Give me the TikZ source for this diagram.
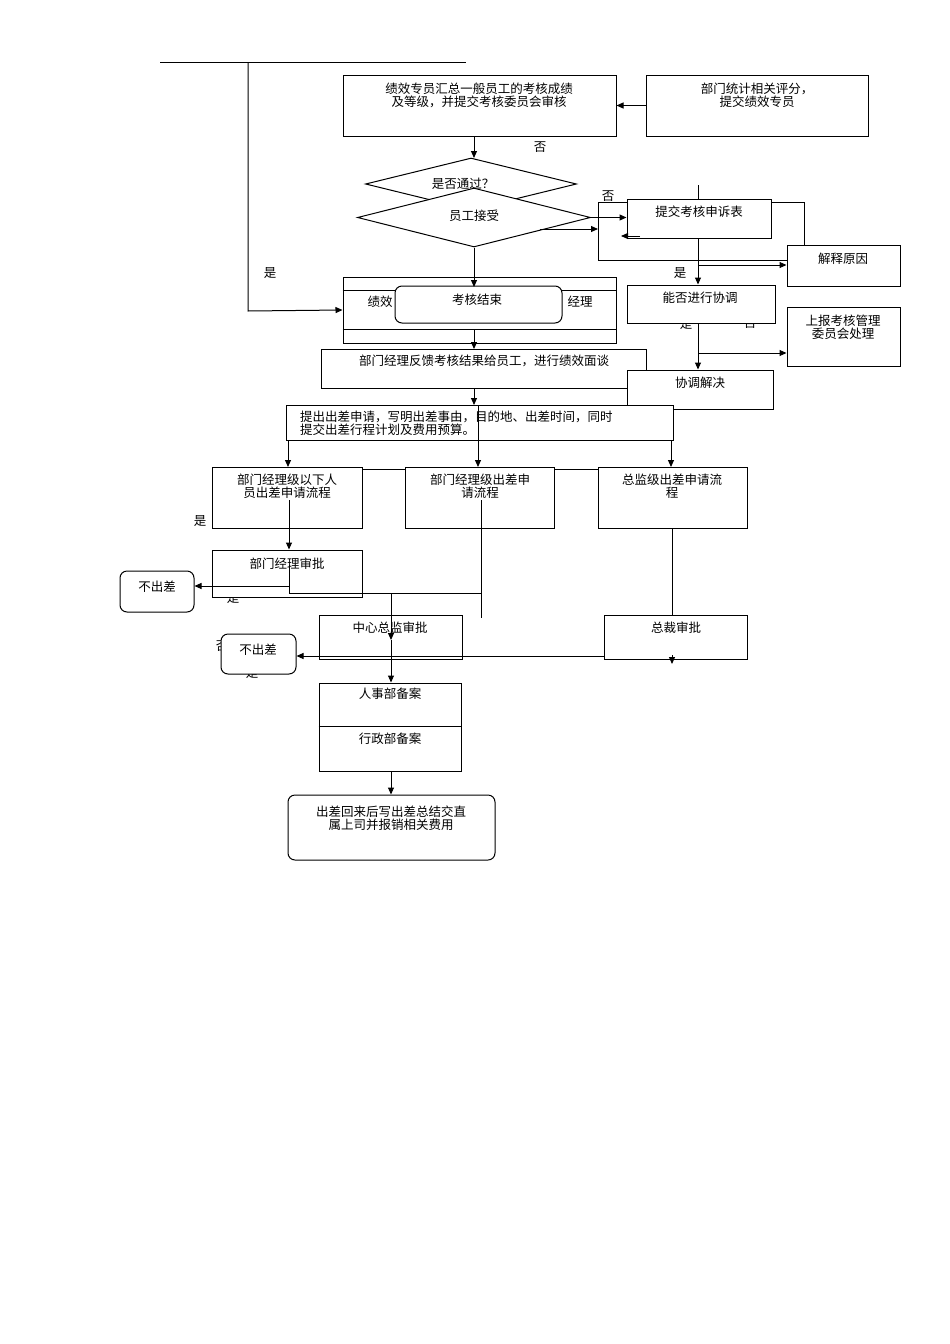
\documentclass[tikz,border=0pt]{standalone}
\usepackage{fontspec}
\setmainfont{Liberation Serif}
\newfontfamily\cjk{Noto Sans CJK SC}
\usetikzlibrary{shapes.geometric,arrows.meta}
\begin{document}
\begin{tikzpicture}[x=1pt,y=-1pt,
  bx/.style={draw,line width=1pt,inner sep=0pt,fill=white},
  rb/.style={bx,rounded corners=7pt},
  tx/.style={font=\cjk\fontsize{12.5}{13}\selectfont,align=center,inner sep=0pt,anchor=north},
  ar/.style={line width=1pt,-{Triangle[length=7pt,width=6pt]}},
  ln/.style={line width=1pt}]
\useasboundingbox (0,0) rectangle (950,1344);
% labels that lie under boxes
\node[tx] (y5) at (233,592) {是};
\node[tx] (n5) at (222,641) {否};
\node[tx] (y6) at (252,667) {是};
% top
\coordinate (t1) at (160,62); \coordinate (t2) at (466,62);
\draw[ln] (t1)--(t2);
\coordinate (lv) at (248,62);
% boxes
\node[bx,minimum width=273,minimum height=61] (A) at (479.5,105.5) {};
\node[tx] (At) at (479,83) {绩效专员汇总一般员工的考核成绩\\及等级，并提交考核委员会审核};
\node[bx,minimum width=222,minimum height=61] (B) at (757,105.5) {};
\node[tx] (Bt) at (757,83) {部门统计相关评分，\\提交绩效专员};
\draw[ar] (B.west) -- (A.east);
\node[tx] (no1) at (540,142) {否};
\node[diamond,draw,line width=1pt,fill=white,aspect=4,minimum width=211,minimum height=52,inner sep=0pt] (D1) at (471,184) {};
\node[tx] (D1t) at (463,178) {是否通过？};
\draw[ar] (A.south -| 474,0) -- (474,158);
\node[diamond,draw,line width=1pt,fill=white,aspect=4,minimum width=233,minimum height=59,inner sep=0pt] (D2) at (474,217.5) {};
\node[tx] (D2t) at (474,210) {员工接受};
% C
\node[bx,minimum width=273,minimum height=66] (C) at (479.5,310) {};
\draw[ln] (C.west |- 0,290) -- (C.east |- 0,290);
\draw[ln] (C.west |- 0,329) -- (C.east |- 0,329);
\node[tx] (Ct1) at (380,296) {绩效};
\node[tx] (Ct2) at (580,296) {经理};
\node[rb,minimum width=167,minimum height=37] (E0) at (478.5,304.5) {};
\node[tx] (E0t) at (477,294) {考核结束};
\draw[ar] (D2.south) -- (474,287);
\coordinate (lb) at (248,311);
\draw[ar] (lv) -- (lb) -- (C.west);
\node[tx] (y1) at (270,267) {是};
% D
\node[bx,minimum width=325,minimum height=39] (D) at (483.5,368.5) {};
\node[tx] (Dt) at (484,355) {部门经理反馈考核结果给员工，进行绩效面谈};
\draw[ar] (474,329) -- (474,349);
% right side
\coordinate (r0) at (698,185);
\node[tx] (no2) at (608,191) {否};
\node[bx,minimum width=144,minimum height=39] (J) at (699,218.5) {};
\node[tx] (Jt) at (699,206) {提交考核申诉表};
\draw[ln] (r0) -- (J.north -| r0);
\node[bx,minimum width=113,minimum height=41] (K) at (843.5,265.5) {};
\node[tx] (Kt) at (843,253) {解释原因};
\draw[ln] (598,260) -- (598,202) -- (627,202);
\draw[ln] (598,260) -- (K.west |- 0,260);
\draw[ln] (771,202) -- (804,202) -- (804,245);
\draw[ar] (D2.east) -- (J.west |- D2.east);
\draw[ar] (540,229) -- (598,229);
\draw[ar] (640,236) -- (621,236);
\node[tx] (y3) at (686,318) {是};
\node[tx] (n3) at (750,318) {否};
\node[bx,minimum width=148,minimum height=38] (L) at (701,304) {};
\node[tx] (Lt) at (700,292) {能否进行协调};
\draw[ar] (J.south -| r0) -- (L.north -| r0);
\draw[ar] (698,265) -- (K.west |- 0,265);
\node[tx] (y2) at (680,267) {是};
\node[bx,minimum width=113,minimum height=59] (M) at (843.5,336.5) {};
\node[tx] (Mt) at (843,315) {上报考核管理\\委员会处理};
\node[bx,minimum width=146,minimum height=39] (N) at (700,389.5) {};
\node[tx] (Nt) at (700,377) {协调解决};
\draw[ar] (L.south -| r0) -- (N.north -| r0);
\draw[ar] (698,353) -- (M.west |- 0,353);
% E
\node[bx,minimum width=387,minimum height=35] (E) at (479.5,422.5) {};
\node[tx,align=left,anchor=north west] (Et) at (300,411) {提出出差申请，写明出差事由，目的地、出差时间，同时\\提交出差行程计划及费用预算。};
\draw[ar] (474,388) -- (474,405);
\draw[ln] (478,405) -- (478,440);
% F
\node[bx,minimum width=150,minimum height=61] (F1) at (287,497.5) {};
\node[tx] (F1t) at (287,474) {部门经理级以下人\\员出差申请流程};
\node[bx,minimum width=149,minimum height=61] (F2) at (479.5,497.5) {};
\node[tx] (F2t) at (480,474) {部门经理级出差申\\请流程};
\node[bx,minimum width=149,minimum height=61] (F3) at (672.5,497.5) {};
\node[tx] (F3t) at (672,474) {总监级出差申请流\\程};
\draw[ln] (F1.east |- 0,469) -- (F2.west |- 0,469);
\draw[ln] (F2.east |- 0,469) -- (F3.west |- 0,469);
\draw[ar] (288,440) -- (288,467);
\draw[ar] (478,440) -- (478,467);
\draw[ar] (671,440) -- (671,467);
\node[tx] (y4) at (200,515) {是};
% G
\node[bx,minimum width=150,minimum height=47] (G) at (287,573.5) {};
\node[tx] (Gt) at (287,558) {部门经理审批};
\draw[ar] (289,500) -- (G.north -| 289,0);
\node[rb,minimum width=74,minimum height=41] (X1) at (157,591.5) {};
\node[tx] (X1t) at (157,581) {不出差};
\draw[ar] (289,565) -- (289,586) -- (X1.east |- 0,586);
\draw[ln] (289,586) -- (289,593) -- (481,593);
\draw[ln] (481,500) -- (481,618);
% H, I
\node[bx,minimum width=143,minimum height=44] (H) at (390.5,637) {};
\node[tx] (Ht) at (390,622) {中心总监审批};
\node[bx,minimum width=143,minimum height=44] (I) at (675.5,637) {};
\node[tx] (It) at (676,622) {总裁审批};
\draw[ln] (672,528) -- (672,615);
\draw[ar] (672,655) -- (672,664);
\node[rb,minimum width=75,minimum height=40] (X2) at (258.5,654) {};
\node[tx] (X2t) at (258,644) {不出差};
\draw[ar] (I.west |- 0,656) -- (X2.east |- 0,656);
% R
\node[bx,minimum width=142,minimum height=88] (R) at (390,727) {};
\draw[ln] (R.west |- 0,726) -- (R.east |- 0,726);
\node[tx] (R1) at (390,688) {人事部备案};
\node[tx] (R2) at (390,733) {行政部备案};
\draw[ar] (391,593) -- (391,640);
\draw[ar] (391,640) -- (R.north -| 391,0);
\node[rb,minimum width=207,minimum height=65] (S) at (391.5,827.5) {};
\node[tx] (St) at (391,806) {出差回来后写出差总结交直\\属上司并报销相关费用};
\draw[ar] (R.south -| 391,0) -- (S.north -| 391,0);
\end{tikzpicture}
\end{document}
